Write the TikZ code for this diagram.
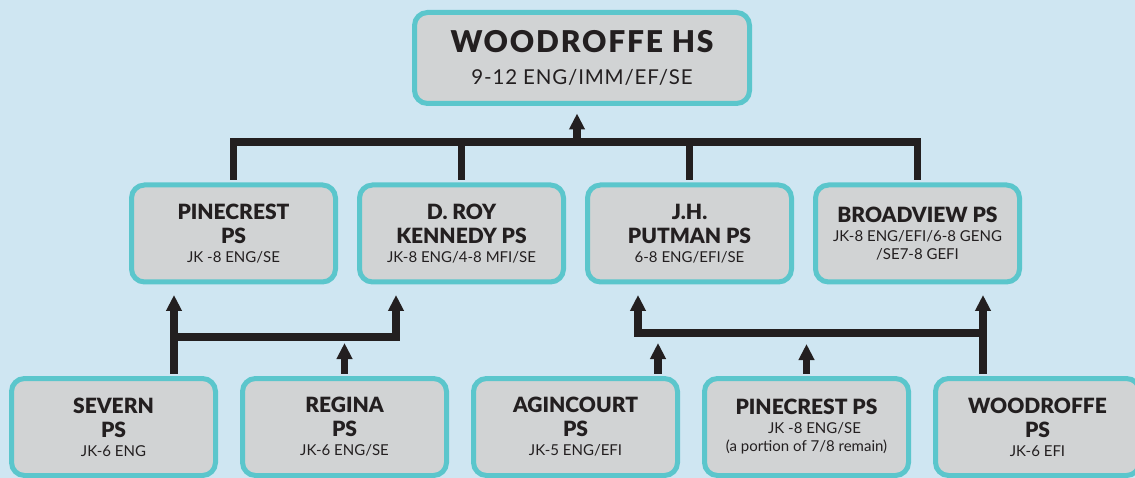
\documentclass[tikz,border=0pt]{standalone}
\usepackage{fontspec}
\setmainfont{Lato}[BoldFont={Lato Black}]
\usetikzlibrary{positioning, arrows.meta}
\definecolor{skyback}{HTML}{CFE6F2}
\definecolor{tealedge}{HTML}{5BC6CC}
\definecolor{boxgray}{HTML}{D1D3D4}
\definecolor{inkblack}{HTML}{231F20}
\newcommand{\bigname}{\fontsize{30}{32}\selectfont\bfseries\addfontfeature{LetterSpace=6}}
\newcommand{\midname}{\fontsize{21}{24}\selectfont\bfseries}
\tikzstyle{school} = [rectangle, rounded corners=13pt, draw=tealedge, line width=5pt, fill=boxgray, text=inkblack, align=center, minimum width=204pt, minimum height=97pt, inner sep=0pt, font=\fontsize{15}{18}\selectfont]
\tikzstyle{highschool} = [school, minimum width=335pt, minimum height=91pt, font=\fontsize{20.5}{22}\selectfont\addfontfeature{LetterSpace=4}]
\tikzstyle{link} = [line width=7.5pt, draw=inkblack, shorten <=2.5pt, shorten >=2.5pt]
\tikzstyle{arrow} = [line width=7.5pt, draw=inkblack, -{Triangle[length=16pt,width=15pt]}, shorten <=2.5pt, shorten >=10.5pt]

\begin{document}
\begin{tikzpicture}[x=1pt, y=-1pt]
    \fill [skyback] (0,0) rectangle (1135,478);
    \useasboundingbox (0,0) rectangle (1135,478);

        % Nodes
        \node (hs) [highschool] at (582,58) {{\bigname WOODROFFE HS}\\[10pt]9-12 ENG/IMM/EF/SE};

        \node (pine) [school] at (233.5,233.5) {{\midname PINECREST}\\[6pt]{\midname PS}\\[1pt]JK -8 ENG/SE};
        \node (roy) [school, right=19pt of pine] {{\midname D. ROY}\\[6pt]{\midname KENNEDY PS}\\[1pt]JK-8 ENG/4-8 MFI/SE};
        \node (putman) [school, right=19pt of roy] {{\midname J.H.}\\[6pt]{\midname PUTMAN PS}\\[1pt]6-8 ENG/EFI/SE};
        \node (broad) [school, right=19pt of putman] {{\midname BROADVIEW PS}\\[1pt]JK-8 ENG/EFI/6-8 GENG\\/SE7-8 GEFI};

        \node (severn) [school] at (113.5,427) {{\midname SEVERN}\\[6pt]{\midname PS}\\[1pt]JK-6 ENG};
        \node (regina) [school, right=22pt of severn] {{\midname REGINA}\\[6pt]{\midname PS}\\[1pt]JK-6 ENG/SE};
        \node (agin) [school, right=22pt of regina] {{\midname AGINCOURT}\\[6pt]{\midname PS}\\[1pt]JK-5 ENG/EFI};
        \node (pinebot) [school, right=22pt of agin] {{\midname PINECREST PS}\\[1pt]\hspace*{16pt}JK -8 ENG/SE\\(a portion of 7/8 remain)};
        \node (woodps) [school, right=22pt of pinebot] {{\midname WOODROFFE}\\[6pt]{\midname PS}\\[1pt]JK-6 EFI};

        % Bars
        \coordinate (topbar) at (577,142);
        \coordinate (leftbar) at (174,337);
        \coordinate (leftend) at (396,337);
        \coordinate (rightbar) at (638,333);
        \coordinate (rightend) at (983,333);
        \coordinate (aginup) at (658,333);

        % Arrows
        \draw [link] (pine.north) |- (topbar) -| (broad.north);
        \draw [link] (roy.north) -- (roy.north |- topbar);
        \draw [link] (putman.north) -- (putman.north |- topbar);
        \draw [arrow, shorten >=7.5pt] (topbar) -- (topbar |- hs.south);

        \draw [arrow] (severn.north -| leftbar) -- (pine.south -| leftbar);
        \draw [arrow] (leftbar) -- (leftend) -- (roy.south -| leftend);
        \draw [arrow, shorten >=6pt] (regina.north) -- (regina.north |- leftbar);

        \draw [arrow] (rightend) -- (rightbar) -- (putman.south -| rightbar);
        \draw [arrow] (woodps.north -| rightend) -- (broad.south -| rightend);
        \draw [arrow, shorten >=10pt] (agin.north -| aginup) -- (aginup);
        \draw [arrow, shorten >=11pt] (pinebot.north) -- (pinebot.north |- rightbar);

    \end{tikzpicture}
\end{document}
